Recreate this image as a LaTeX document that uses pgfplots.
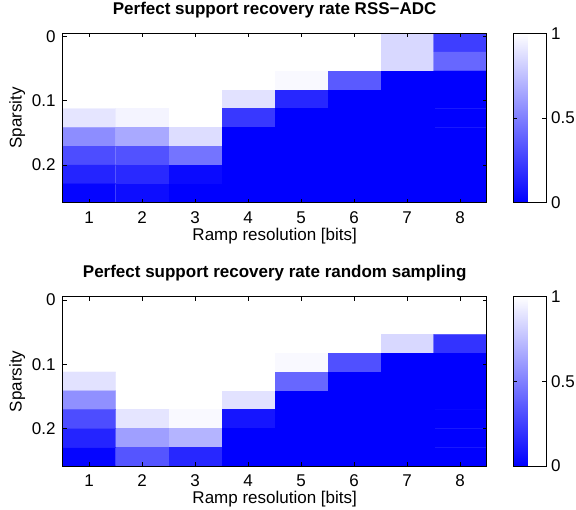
\documentclass[border=0pt]{standalone}
\usepackage{fontspec}
\setmainfont{Liberation Sans}
\usepackage{pgfplots}
\pgfplotsset{compat=1.18}
\newcommand\fs{\fontsize{17}{20}\selectfont}

\pgfplotsset{
  heat/.style={
    scale only axis, width=424pt, height=169.4pt, anchor=north west,
    xmin=0.5, xmax=8.5, ymin=-0.0053, ymax=0.2586, y dir=reverse,
    xtick={1,...,8}, ytick={0,0.1,0.2},
    tick align=inside, major tick length=4pt,
    axis line style={line width=0.8pt},
    every tick/.style={black, line width=0.8pt},
    tick label style={font=\fs, /pgf/number format/assume math mode=true},
    xticklabel style={anchor=base, inner sep=0pt, yshift=-20.6pt},
    yticklabel style={anchor=east, inner sep=0pt, xshift=-7pt},
    xlabel style={at={(axis description cs:0.5,0)}, anchor=base, yshift=-37.5pt, font=\fs},
    ylabel style={at={(axis description cs:-0.0967,0.5)}, anchor=base, font=\fs},
    title style={at={(axis description cs:0.5,1)}, anchor=base, yshift=13pt, font=\bfseries\fs},
    xlabel={Ramp resolution [bits]}, ylabel={Sparsity},
    colormap={bw}{rgb255=(0,0,255) rgb255=(255,255,255)},
    point meta min=0, point meta max=1,
    colorbar,
    colorbar style={at={(parent axis.north east)}, anchor=north west, xshift=17.8pt,
      scale only axis, width=33pt, height=169.4pt,
      ytick={0,0.5,1}, yticklabel pos=right,
      tick align=inside, major tick length=4pt,
      axis line style={line width=0.8pt},
      every tick/.style={black, line width=0.8pt},
      yticklabel style={anchor=west, inner sep=0pt, xshift=5pt, font=\fs,
        /pgf/number format/assume math mode=true}},
    axis on top,
  },
  cells/.style={matrix plot*, mesh/cols=8, point meta=explicit,
    shader=faceted, faceted color=mapped color, line width=0.3pt},
}

\begin{document}
\begin{tikzpicture}
\path[use as bounding box] (0,0) rectangle (576pt,-510pt);

\begin{axis}[heat, at={(62.7pt,-33.3pt)},
  title={Perfect support recovery rate RSS−ADC}]
\addplot[cells] coordinates {
(1,0.0094) [1] (2,0.0094) [1] (3,0.0094) [1] (4,0.0094) [1] (5,0.0094) [1] (6,0.0094) [1] (7,0.0094) [0.84] (8,0.0094) [0.24]

(1,0.0387) [1] (2,0.0387) [1] (3,0.0387) [1] (4,0.0387) [1] (5,0.0387) [1] (6,0.0387) [1] (7,0.0387) [0.84] (8,0.0387) [0.40]

(1,0.0680) [1] (2,0.0680) [1] (3,0.0680) [1] (4,0.0680) [1] (5,0.0680) [0.97] (6,0.0680) [0.35] (7,0.0680) [0] (8,0.0680) [0]

(1,0.0973) [1] (2,0.0973) [1] (3,0.0973) [1] (4,0.0973) [0.88] (5,0.0973) [0.15] (6,0.0973) [0] (7,0.0973) [0] (8,0.0973) [0]

(1,0.1267) [0.89] (2,0.1267) [0.95] (3,0.1267) [1] (4,0.1267) [0.22] (5,0.1267) [0] (6,0.1267) [0] (7,0.1267) [0] (8,0.1267) [0]

(1,0.1560) [0.55] (2,0.1560) [0.66] (3,0.1560) [0.86] (4,0.1560) [0] (5,0.1560) [0] (6,0.1560) [0] (7,0.1560) [0] (8,0.1560) [0]

(1,0.1853) [0.30] (2,0.1853) [0.32] (3,0.1853) [0.45] (4,0.1853) [0] (5,0.1853) [0] (6,0.1853) [0] (7,0.1853) [0] (8,0.1853) [0]

(1,0.2146) [0.14] (2,0.2146) [0.16] (3,0.2146) [0.04] (4,0.2146) [0] (5,0.2146) [0] (6,0.2146) [0] (7,0.2146) [0] (8,0.2146) [0]

(1,0.2439) [0.02] (2,0.2439) [0.05] (3,0.2439) [0] (4,0.2439) [0] (5,0.2439) [0] (6,0.2439) [0] (7,0.2439) [0] (8,0.2439) [0]
};
\end{axis}

\begin{axis}[heat, at={(62.7pt,-296.7pt)},
  title={Perfect support recovery rate random sampling}]
\addplot[cells] coordinates {
(1,0.0094) [1] (2,0.0094) [1] (3,0.0094) [1] (4,0.0094) [1] (5,0.0094) [1] (6,0.0094) [1] (7,0.0094) [1] (8,0.0094) [1]

(1,0.0387) [1] (2,0.0387) [1] (3,0.0387) [1] (4,0.0387) [1] (5,0.0387) [1] (6,0.0387) [1] (7,0.0387) [1] (8,0.0387) [1]

(1,0.0680) [1] (2,0.0680) [1] (3,0.0680) [1] (4,0.0680) [1] (5,0.0680) [1] (6,0.0680) [1] (7,0.0680) [0.84] (8,0.0680) [0.20]

(1,0.0973) [1] (2,0.0973) [1] (3,0.0973) [1] (4,0.0973) [1] (5,0.0973) [0.97] (6,0.0973) [0.31] (7,0.0973) [0] (8,0.0973) [0]

(1,0.1267) [0.88] (2,0.1267) [1] (3,0.1267) [1] (4,0.1267) [1] (5,0.1267) [0.40] (6,0.1267) [0] (7,0.1267) [0] (8,0.1267) [0]

(1,0.1560) [0.56] (2,0.1560) [1] (3,0.1560) [1] (4,0.1560) [0.88] (5,0.1560) [0] (6,0.1560) [0] (7,0.1560) [0] (8,0.1560) [0]

(1,0.1853) [0.30] (2,0.1853) [0.89] (3,0.1853) [0.97] (4,0.1853) [0.08] (5,0.1853) [0] (6,0.1853) [0] (7,0.1853) [0] (8,0.1853) [0]

(1,0.2146) [0.14] (2,0.2146) [0.62] (3,0.2146) [0.70] (4,0.2146) [0] (5,0.2146) [0] (6,0.2146) [0] (7,0.2146) [0] (8,0.2146) [0]

(1,0.2439) [0.02] (2,0.2439) [0.33] (3,0.2439) [0.15] (4,0.2439) [0] (5,0.2439) [0] (6,0.2439) [0] (7,0.2439) [0] (8,0.2439) [0]
};
\end{axis}
\end{tikzpicture}
\end{document}
